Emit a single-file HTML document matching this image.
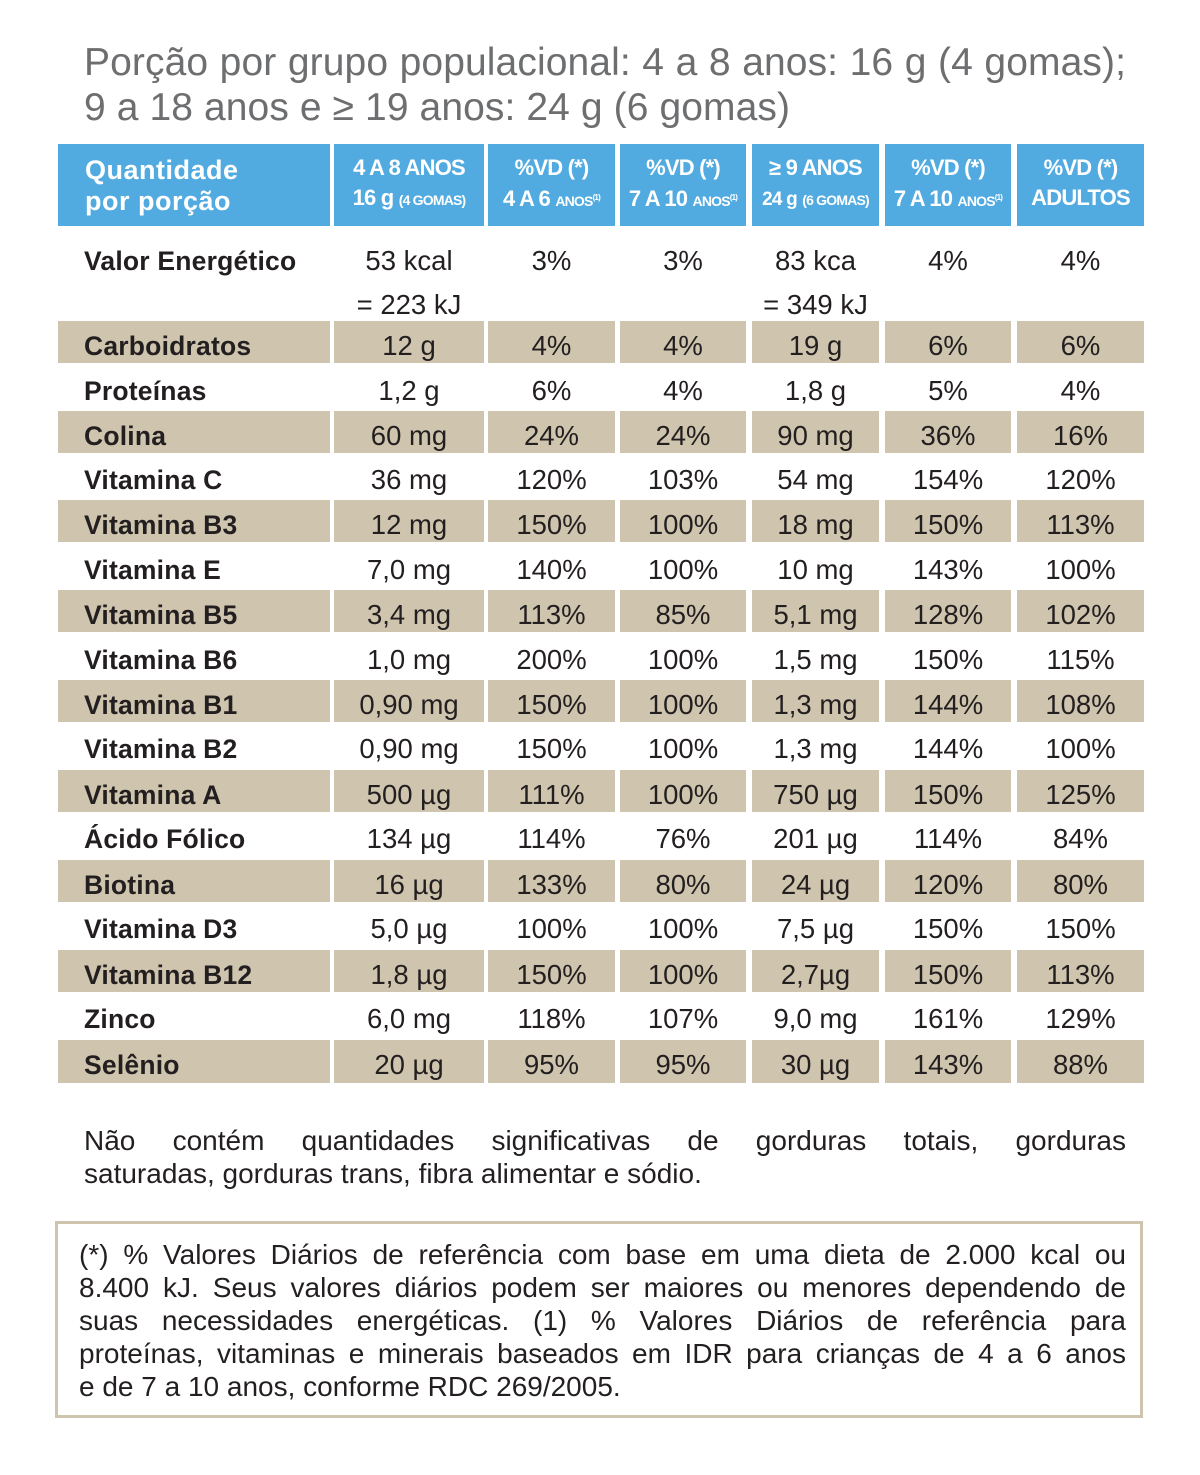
<!DOCTYPE html>
<html><head><meta charset="utf-8"><style>
body{margin:0;background:#fff;width:1200px;height:1475px;position:relative;overflow:hidden;font-family:"Liberation Sans",sans-serif;color:#231f20}
.t{position:absolute;left:84px;top:40px;font-size:39px;line-height:45px;color:#6d6e70;letter-spacing:0.1px}
.c{position:absolute;height:42px;font-size:27.5px;line-height:50px;text-align:center;white-space:nowrap}
.c.l{text-align:left;padding-left:26px;box-sizing:border-box;font-weight:bold;font-size:26.5px;letter-spacing:0.2px}
.h{position:absolute;top:144px;height:82px;background:#52abe0;color:#fff;text-align:center;font-weight:bold;font-size:22px;line-height:30px;padding-top:9px;box-sizing:border-box;white-space:nowrap;letter-spacing:-0.8px}
.h small{font-size:14px}
.h sup{font-size:8px;vertical-align:6px}
.tan{background:#cfc4ad}
.k1{left:58px;width:272px}.k2{left:334px;width:150px}.k3{left:488px;width:127px}.k4{left:620px;width:126px}.k5{left:752px;width:127px}.k6{left:885px;width:126px}.k7{left:1017px;width:127px}
.n{position:absolute;left:84px;top:1124px;width:1042px;font-size:28px;line-height:33px}
.box{position:absolute;left:55px;top:1221px;width:1088px;height:197px;border:3px solid #cfc4ad;box-sizing:border-box}
.f{position:absolute;left:79px;top:1238px;width:1047px;font-size:28px;line-height:33px;color:#231f20}
.j{text-align:justify;text-align-last:justify;white-space:nowrap}
</style></head><body>
<div class="t"><div class="j" style="width:1042px">Porção por grupo populacional: 4 a 8 anos: 16 g (4 gomas);</div>9 a 18 anos e ≥ 19 anos: 24 g (6 gomas)</div>

<div class="h k1" style="text-align:left;padding-left:27px;font-size:27px;line-height:31px;padding-top:11px;letter-spacing:0.5px">Quantidade<br>por porção</div>
<div class="h k2">4 A 8 ANOS<br>16 g <small>(4 GOMAS)</small></div>
<div class="h k3">%VD (*)<br>4 A 6 <small>ANOS<sup>(1)</sup></small></div>
<div class="h k4">%VD (*)<br>7 A 10 <small>ANOS<sup>(1)</sup></small></div>
<div class="h k5">≥ 9 ANOS<br><span style="font-size:19px">24 g</span> <small>(6 GOMAS)</small></div>
<div class="h k6">%VD (*)<br>7 A 10 <small>ANOS<sup>(1)</sup></small></div>
<div class="h k7">%VD (*)<br>ADULTOS</div>

<div class="c l k1" style="top:236px">Valor Energético</div>
<div class="c k2" style="top:236px">53 kcal</div><div class="c k3" style="top:236px">3%</div><div class="c k4" style="top:236px">3%</div><div class="c k5" style="top:236px">83 kca</div><div class="c k6" style="top:236px">4%</div><div class="c k7" style="top:236px">4%</div>
<div class="c k2" style="top:280px">= 223 kJ</div><div class="c k5" style="top:280px">= 349 kJ</div>

<div class="c l k1 tan" style="top:321px">Carboidratos</div><div class="c k2 tan" style="top:321px">12 g</div><div class="c k3 tan" style="top:321px">4%</div><div class="c k4 tan" style="top:321px">4%</div><div class="c k5 tan" style="top:321px">19 g</div><div class="c k6 tan" style="top:321px">6%</div><div class="c k7 tan" style="top:321px">6%</div>
<div class="c l k1" style="top:366px">Proteínas</div><div class="c k2" style="top:366px">1,2 g</div><div class="c k3" style="top:366px">6%</div><div class="c k4" style="top:366px">4%</div><div class="c k5" style="top:366px">1,8 g</div><div class="c k6" style="top:366px">5%</div><div class="c k7" style="top:366px">4%</div>
<div class="c l k1 tan" style="top:411px">Colina</div><div class="c k2 tan" style="top:411px">60 mg</div><div class="c k3 tan" style="top:411px">24%</div><div class="c k4 tan" style="top:411px">24%</div><div class="c k5 tan" style="top:411px">90 mg</div><div class="c k6 tan" style="top:411px">36%</div><div class="c k7 tan" style="top:411px">16%</div>
<div class="c l k1" style="top:455px">Vitamina C</div><div class="c k2" style="top:455px">36 mg</div><div class="c k3" style="top:455px">120%</div><div class="c k4" style="top:455px">103%</div><div class="c k5" style="top:455px">54 mg</div><div class="c k6" style="top:455px">154%</div><div class="c k7" style="top:455px">120%</div>
<div class="c l k1 tan" style="top:500px">Vitamina B3</div><div class="c k2 tan" style="top:500px">12 mg</div><div class="c k3 tan" style="top:500px">150%</div><div class="c k4 tan" style="top:500px">100%</div><div class="c k5 tan" style="top:500px">18 mg</div><div class="c k6 tan" style="top:500px">150%</div><div class="c k7 tan" style="top:500px">113%</div>
<div class="c l k1" style="top:545px">Vitamina E</div><div class="c k2" style="top:545px">7,0 mg</div><div class="c k3" style="top:545px">140%</div><div class="c k4" style="top:545px">100%</div><div class="c k5" style="top:545px">10 mg</div><div class="c k6" style="top:545px">143%</div><div class="c k7" style="top:545px">100%</div>
<div class="c l k1 tan" style="top:590px">Vitamina B5</div><div class="c k2 tan" style="top:590px">3,4 mg</div><div class="c k3 tan" style="top:590px">113%</div><div class="c k4 tan" style="top:590px">85%</div><div class="c k5 tan" style="top:590px">5,1 mg</div><div class="c k6 tan" style="top:590px">128%</div><div class="c k7 tan" style="top:590px">102%</div>
<div class="c l k1" style="top:635px">Vitamina B6</div><div class="c k2" style="top:635px">1,0 mg</div><div class="c k3" style="top:635px">200%</div><div class="c k4" style="top:635px">100%</div><div class="c k5" style="top:635px">1,5 mg</div><div class="c k6" style="top:635px">150%</div><div class="c k7" style="top:635px">115%</div>
<div class="c l k1 tan" style="top:680px">Vitamina B1</div><div class="c k2 tan" style="top:680px">0,90 mg</div><div class="c k3 tan" style="top:680px">150%</div><div class="c k4 tan" style="top:680px">100%</div><div class="c k5 tan" style="top:680px">1,3 mg</div><div class="c k6 tan" style="top:680px">144%</div><div class="c k7 tan" style="top:680px">108%</div>
<div class="c l k1" style="top:724px">Vitamina B2</div><div class="c k2" style="top:724px">0,90 mg</div><div class="c k3" style="top:724px">150%</div><div class="c k4" style="top:724px">100%</div><div class="c k5" style="top:724px">1,3 mg</div><div class="c k6" style="top:724px">144%</div><div class="c k7" style="top:724px">100%</div>
<div class="c l k1 tan" style="top:770px">Vitamina A</div><div class="c k2 tan" style="top:770px">500 µg</div><div class="c k3 tan" style="top:770px">111%</div><div class="c k4 tan" style="top:770px">100%</div><div class="c k5 tan" style="top:770px">750 µg</div><div class="c k6 tan" style="top:770px">150%</div><div class="c k7 tan" style="top:770px">125%</div>
<div class="c l k1" style="top:814px">Ácido Fólico</div><div class="c k2" style="top:814px">134 µg</div><div class="c k3" style="top:814px">114%</div><div class="c k4" style="top:814px">76%</div><div class="c k5" style="top:814px">201 µg</div><div class="c k6" style="top:814px">114%</div><div class="c k7" style="top:814px">84%</div>
<div class="c l k1 tan" style="top:860px">Biotina</div><div class="c k2 tan" style="top:860px">16 µg</div><div class="c k3 tan" style="top:860px">133%</div><div class="c k4 tan" style="top:860px">80%</div><div class="c k5 tan" style="top:860px">24 µg</div><div class="c k6 tan" style="top:860px">120%</div><div class="c k7 tan" style="top:860px">80%</div>
<div class="c l k1" style="top:904px">Vitamina D3</div><div class="c k2" style="top:904px">5,0 µg</div><div class="c k3" style="top:904px">100%</div><div class="c k4" style="top:904px">100%</div><div class="c k5" style="top:904px">7,5 µg</div><div class="c k6" style="top:904px">150%</div><div class="c k7" style="top:904px">150%</div>
<div class="c l k1 tan" style="top:950px">Vitamina B12</div><div class="c k2 tan" style="top:950px">1,8 µg</div><div class="c k3 tan" style="top:950px">150%</div><div class="c k4 tan" style="top:950px">100%</div><div class="c k5 tan" style="top:950px">2,7µg</div><div class="c k6 tan" style="top:950px">150%</div><div class="c k7 tan" style="top:950px">113%</div>
<div class="c l k1" style="top:994px">Zinco</div><div class="c k2" style="top:994px">6,0 mg</div><div class="c k3" style="top:994px">118%</div><div class="c k4" style="top:994px">107%</div><div class="c k5" style="top:994px">9,0 mg</div><div class="c k6" style="top:994px">161%</div><div class="c k7" style="top:994px">129%</div>
<div class="c l k1 tan" style="top:1040px;height:43px">Selênio</div><div class="c k2 tan" style="top:1040px;height:43px">20 µg</div><div class="c k3 tan" style="top:1040px;height:43px">95%</div><div class="c k4 tan" style="top:1040px;height:43px">95%</div><div class="c k5 tan" style="top:1040px;height:43px">30 µg</div><div class="c k6 tan" style="top:1040px;height:43px">143%</div><div class="c k7 tan" style="top:1040px;height:43px">88%</div>

<div class="n"><div class="j">Não contém quantidades significativas de gorduras totais, gorduras</div>saturadas, gorduras trans, fibra alimentar e sódio.</div>
<div class="box"></div>
<div class="f"><div class="j">(*) % Valores Diários de referência com base em uma dieta de 2.000 kcal ou</div><div class="j">8.400 kJ. Seus valores diários podem ser maiores ou menores dependendo de</div><div class="j">suas necessidades energéticas. (1) % Valores Diários de referência para</div><div class="j">proteínas, vitaminas e minerais baseados em IDR para crianças de 4 a 6 anos</div>e de 7 a 10 anos, conforme RDC 269/2005.</div>
</body></html>
